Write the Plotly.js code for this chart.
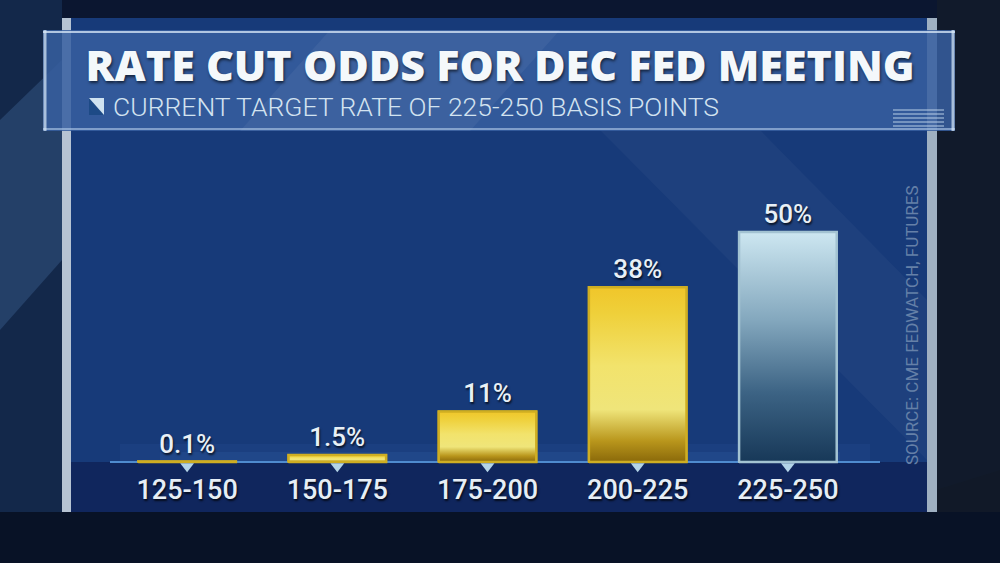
<!DOCTYPE html>
<html>
<head>
<meta charset="utf-8">
<script src="https://cdn.plot.ly/plotly-3.0.1.min.js"></script>
<style>
  html, body { margin: 0; padding: 0; background: #0b1630; }
  #chart { width: 1000px; height: 563px; }
</style>
</head>
<body>
<div id="chart"></div>
<script>
// ---- data ----
const categories = ['125-150', '150-175', '175-200', '200-225', '225-250'];
const odds = [0.1, 1.5, 11, 38, 50];
const barGroup = ['other', 'other', 'other', 'other', 'current'];
const titleText = 'RATE CUT ODDS FOR DEC FED MEETING';
const subtitleText = 'CURRENT TARGET RATE OF 225-250 BASIS POINTS';
const sourceText = 'SOURCE: CME FEDWATCH, FUTURES';

// ---- styles ----
const solidColor = { other: '#e9cd3c', current: '#7fa6bd' };
const gradScale = {
  other: [[0, '#8a690a'], [0.12, '#b9961c'], [0.3, '#efe57a'], [0.55, '#f2e36c'], [0.85, '#efd03a'], [1, '#f0c62a']],
  current: [[0, '#173858'], [0.3, '#3c6384'], [0.62, '#84a8be'], [1, '#cde7f1']]
};
const edgeColor = { other: '#cfae22', current: '#a3c3d2' };
const BAR_W = 0.65;

const X = px => px / 1000;
const Y = py => 1 - py / 563;
const xs = categories.map((c, i) => i);

const traces = [];
// main bar trace (data + value labels)
traces.push({
  type: 'bar',
  x: xs,
  y: odds,
  width: BAR_W,
  marker: { color: barGroup.map(g => solidColor[g]), line: { color: barGroup.map(g => edgeColor[g]), width: 2 } },
  texttemplate: '%{y}%',
  textposition: 'outside',
  textfont: { family: 'Roboto', size: 26, weight: 500, color: '#e8f0f6', shadow: '1px 2px 2px rgba(0,0,0,0.7)' },
  cliponaxis: false,
  hoverinfo: 'x+y',
  showlegend: false
});
// gradient overlay per bar (built from the same data through the axes)
odds.forEach((v, i) => {
  const g = barGroup[i];
  const l = xs[i] - BAR_W / 2, r = xs[i] + BAR_W / 2;
  traces.push({
    type: 'scatter', mode: 'lines',
    x: [l, l, r, r, l], y: [0, v, v, 0, 0],
    fill: 'toself',
    fillgradient: { type: 'vertical', colorscale: gradScale[g] },
    line: { color: edgeColor[g], width: 2.5 },
    hoverinfo: 'skip', showlegend: false, cliponaxis: false
  });
});
// small triangle pointers under each category
traces.push({
  type: 'scatter', mode: 'markers',
  x: xs, y: xs.map(() => -0.9),
  marker: { symbol: 'triangle-down', size: 12, color: '#b3d4e8', line: { width: 0 } },
  hoverinfo: 'skip', showlegend: false, cliponaxis: false
});

const shapes = [
  // outer background tints
  { type: 'rect', xref: 'paper', yref: 'paper', x0: 0, x1: X(62), y0: 0, y1: 1, fillcolor: '#13284a', line: { width: 0 }, layer: 'below' },
  { type: 'path', xref: 'paper', yref: 'paper', path: `M 0 ${Y(120)} L ${X(62)} ${Y(60)} L ${X(62)} ${Y(260)} L 0 ${Y(330)} Z`, fillcolor: 'rgba(70,110,160,0.35)', line: { width: 0 }, layer: 'below' },
  { type: 'path', xref: 'paper', yref: 'paper', path: `M ${X(700)} 0 L ${X(1000)} 0 L ${X(1000)} ${Y(470)} Z`, fillcolor: 'rgba(10,18,32,0.6)', line: { width: 0 }, layer: 'below' },
  { type: 'rect', xref: 'paper', yref: 'paper', x0: X(937), x1: 1, y0: 0, y1: 1, fillcolor: 'rgba(20,28,42,0.7)', line: { width: 0 }, layer: 'below' },
  { type: 'rect', xref: 'paper', yref: 'paper', x0: 0, x1: 1, y0: Y(563), y1: Y(512), fillcolor: '#081226', line: { width: 0 }, layer: 'below' },
  // panel side strips
  { type: 'rect', xref: 'paper', yref: 'paper', x0: X(62), x1: X(71), y0: Y(512), y1: Y(18), fillcolor: '#b6c3d3', line: { width: 0 }, layer: 'below' },
  { type: 'rect', xref: 'paper', yref: 'paper', x0: X(927), x1: X(937), y0: Y(512), y1: Y(18), fillcolor: '#9fb0c2', line: { width: 0 }, layer: 'below' },
  // panel
  { type: 'rect', xref: 'paper', yref: 'paper', x0: X(71), x1: X(927), y0: Y(512), y1: Y(18), fillcolor: '#173a79', line: { width: 0 }, layer: 'below' },
  { type: 'path', xref: 'paper', yref: 'paper', path: `M ${X(600)} ${Y(130)} L ${X(760)} ${Y(130)} L ${X(927)} ${Y(300)} L ${X(927)} ${Y(460)} Z`, fillcolor: 'rgba(255,255,255,0.03)', line: { width: 0 }, layer: 'below' },
  { type: 'rect', xref: 'paper', yref: 'paper', x0: X(71), x1: X(927), y0: Y(512), y1: Y(462), fillcolor: '#10265d', line: { width: 0 }, layer: 'below' },
  // soft glow above baseline
  { type: 'rect', xref: 'paper', yref: 'paper', x0: X(120), x1: X(870), y0: Y(462), y1: Y(444), fillcolor: 'rgba(80,140,225,0.07)', line: { width: 0 }, layer: 'below' },
  { type: 'rect', xref: 'paper', yref: 'paper', x0: X(160), x1: X(840), y0: Y(462), y1: Y(452), fillcolor: 'rgba(90,150,230,0.09)', line: { width: 0 }, layer: 'below' },
  // baseline
  { type: 'line', xref: 'paper', yref: 'paper', x0: X(110), x1: X(880), y0: Y(462), y1: Y(462), line: { color: '#4f8bcf', width: 2 }, layer: 'below' },
  // title banner
  { type: 'rect', xref: 'paper', yref: 'paper', x0: X(43), x1: X(955), y0: Y(131), y1: Y(30), fillcolor: 'rgba(55,95,160,0.85)', line: { width: 0 }, layer: 'below' },
  { type: 'path', xref: 'paper', yref: 'paper', path: `M ${X(330)} ${Y(30)} L ${X(560)} ${Y(30)} L ${X(470)} ${Y(131)} L ${X(240)} ${Y(131)} Z`, fillcolor: 'rgba(255,255,255,0.05)', line: { width: 0 }, layer: 'below' },
  { type: 'line', xref: 'paper', yref: 'paper', x0: X(43), x1: X(955), y0: Y(32), y1: Y(32), line: { color: 'rgba(220,235,250,0.75)', width: 2 }, layer: 'below' },
  { type: 'line', xref: 'paper', yref: 'paper', x0: X(43), x1: X(955), y0: Y(129), y1: Y(129), line: { color: 'rgba(180,205,235,0.6)', width: 2 }, layer: 'below' },
  { type: 'line', xref: 'paper', yref: 'paper', x0: X(45), x1: X(45), y0: Y(131), y1: Y(30), line: { color: 'rgba(220,235,250,0.7)', width: 3 }, layer: 'below' },
  { type: 'line', xref: 'paper', yref: 'paper', x0: X(953), x1: X(953), y0: Y(131), y1: Y(30), line: { color: 'rgba(220,235,250,0.7)', width: 3 }, layer: 'below' },
  // subtitle icon
  { type: 'rect', xref: 'paper', yref: 'paper', x0: X(89), x1: X(104), y0: Y(115), y1: Y(98), fillcolor: '#1d4a86', line: { width: 0 }, layer: 'below' },
  { type: 'path', xref: 'paper', yref: 'paper', path: `M ${X(89)} ${Y(98)} L ${X(104)} ${Y(98)} L ${X(104)} ${Y(115)} Z`, fillcolor: '#cfe2f0', line: { width: 0 }, layer: 'below' }
];
// little stacked lines icon on banner right
[110, 114, 118, 122, 126].forEach(py => {
  shapes.push({ type: 'line', xref: 'paper', yref: 'paper', x0: X(893), x1: X(944), y0: Y(py), y1: Y(py), line: { color: 'rgba(200,220,240,0.45)', width: 2 }, layer: 'below' });
});

const layout = {
  width: 1000, height: 563,
  margin: { l: 0, r: 0, t: 0, b: 0 },
  paper_bgcolor: '#0b1630',
  plot_bgcolor: 'rgba(0,0,0,0)',
  showlegend: false,
  title: {
    text: titleText,
    x: 0.5, xanchor: 'center', xref: 'paper',
    y: Y(66), yanchor: 'middle', yref: 'container',
    font: { family: 'Open Sans', size: 43, weight: 800, color: '#f4f8fb', shadow: '1px 2px 3px rgba(0,0,0,0.6)' }
  },
  xaxis: {
    domain: [X(112), X(863)],
    range: [-0.5, 4.5],
    tickvals: xs,
    ticktext: categories,
    showgrid: false, zeroline: false, showline: false, ticks: '',
    ticklabelstandoff: 0,
    tickfont: { family: 'Roboto', size: 27, weight: 500, color: '#e6eef5', shadow: '1px 2px 2px rgba(0,0,0,0.7)' },
    fixedrange: true
  },
  yaxis: {
    domain: [Y(471.2), Y(186)],
    range: [-2, 60],
    showgrid: false, zeroline: false, showline: false, showticklabels: false, ticks: '',
    fixedrange: true
  },
  shapes: shapes,
  annotations: [
    {
      text: subtitleText, xref: 'paper', yref: 'paper', x: X(111), y: Y(106),
      xanchor: 'left', yanchor: 'middle', showarrow: false,
      font: { family: 'Roboto', size: 26.5, weight: 300, color: '#d3e3f0' }
    },
    {
      text: sourceText, xref: 'paper', yref: 'paper', x: X(912), y: Y(325),
      xanchor: 'center', yanchor: 'middle', showarrow: false, textangle: -90,
      font: { family: 'Roboto', size: 17, color: '#6580a8' }
    }
  ]
};

Plotly.newPlot('chart', traces, layout, { displayModeBar: false, staticPlot: true });
</script>
</body>
</html>
